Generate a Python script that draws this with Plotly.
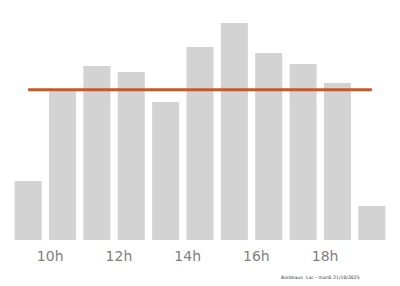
import plotly.graph_objects as go

hours = [9, 10, 11, 12, 13, 14, 15, 16, 17, 18, 19]
values = [59, 150, 174, 168, 138, 193, 217, 187, 176, 157, 34]
tick_hours = [10, 12, 14, 16, 18]
tick_labels = ["10h", "12h", "14h", "16h", "18h"]
caption = "Bordeaux  Lac - mardi 21/10/2025"

average = sum(values) / len(values)

fig = go.Figure()
fig.add_trace(go.Bar(x=hours, y=values, marker=dict(color="#d3d3d3", line=dict(width=0)),
                     hoverinfo="skip"))
fig.add_trace(go.Scatter(x=[hours[0], hours[-1]], y=[average, average], mode="lines",
                         line=dict(color="#c8582a", width=3), hoverinfo="skip"))

fig.update_layout(
    width=400, height=286,
    margin=dict(l=11, r=11, t=10, b=46),
    paper_bgcolor="white", plot_bgcolor="white",
    showlegend=False, bargap=0.214,
    font=dict(family="DejaVu Sans", color="#808080"),
    xaxis=dict(range=[8.5, 19.5], tickvals=tick_hours, ticktext=tick_labels,
               ticklabelposition="outside left", showgrid=False, zeroline=False,
               showline=False, ticks="", ticklabelstandoff=6, ticklabelshift=1,
               tickfont=dict(size=14, color="#808080")),
    yaxis=dict(range=[0, 230], visible=False),
    annotations=[dict(text=caption, xref="paper", yref="paper", x=0.928, y=-0.165,
                      xanchor="right", yanchor="middle", showarrow=False,
                      font=dict(size=4.6, color="#333333"))],
)
fig.write_html("out.html")
